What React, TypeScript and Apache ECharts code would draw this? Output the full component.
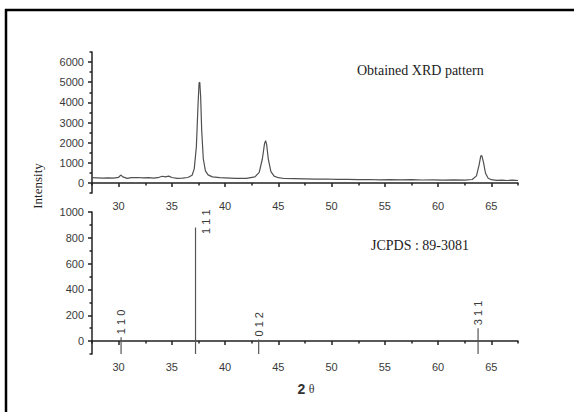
import React, { useEffect, useRef } from "react";
import * as echarts from "echarts";

// Obtained XRD pattern (2θ in degrees, intensity in counts)
const xrdAngles = [
  27.5, 28, 28.5, 29, 29.5, 30, 30.2, 30.4, 30.8, 31.2, 31.8, 32.3, 32.8, 33.3, 33.8,
  34.1, 34.4, 34.7, 35, 35.5, 36, 36.5, 36.9, 37.1, 37.3, 37.45, 37.55, 37.62, 37.7,
  37.8, 37.95, 38.15, 38.4, 38.8, 39.5, 40, 41, 42, 42.8, 43.2, 43.5, 43.7, 43.8, 43.9,
  44.05, 44.3, 44.6, 45, 45.5, 46.5, 47.5, 48.5, 49.5, 50.5, 51.5, 52.5, 53.5, 54.5,
  55.5, 56.5, 57.5, 58.5, 59.5, 60.5, 61.5, 62.5, 63.2, 63.6, 63.85, 64.0, 64.1, 64.25,
  64.45, 64.7, 65, 65.5, 66, 66.5, 67, 67.5,
];
const xrdIntensity = [
  260, 250, 240, 255, 235, 280, 390, 300, 225, 260, 270, 255, 260, 240, 280,
  330, 300, 340, 270, 230, 240, 270, 380, 700, 1800, 3800, 4950, 5000, 4300,
  2600, 1200, 600, 400, 300, 260, 250, 230, 225, 300, 520, 1200, 1950, 2100, 1900,
  1200, 560, 340, 260, 220, 210, 200, 185, 195, 175, 180, 160, 170, 155,
  165, 150, 160, 145, 150, 140, 150, 140, 170, 350, 900, 1330, 1360, 1050,
  480, 230, 160, 130, 140, 120, 135, 120,
];

// JCPDS 89-3081 reference lines
const refAngles = [30.23, 37.22, 43.15, 63.75];
const refIntensity = [30, 880, 12, 100];
const refLabels = ["1 1 0", "1 1 1", "0 1 2", "3 1 1"];

// Axis ticks
const xMajorTicks = [30, 35, 40, 45, 50, 55, 60, 65];
const xMinorTicks = [27.5, 32.5, 37.5, 42.5, 47.5, 52.5, 57.5, 62.5, 67.5];
const topYMajor = [0, 1000, 2000, 3000, 4000, 5000, 6000];
const topYMinor = [-500, 500, 1500, 2500, 3500, 4500, 5500, 6500];
const botYMajor = [0, 200, 400, 600, 800, 1000];
const botYMinor = [-100, 100, 300, 500, 700, 900];

const X_MIN = 27.5;
const X_MAX = 67.5;
const TOP_Y_MIN = -500;
const TOP_Y_MAX = 6500;
const BOT_Y_MIN = -100;
const BOT_Y_MAX = 1000;

const axisColor = "#222";
const labelColor = "#3a3a3a";
const sans = "Arial, 'Liberation Sans', sans-serif";
const serif = "'Liberation Serif', 'Times New Roman', serif";

const plain = (v: number) => String(v);

function xAxisPair(gridIndex: number) {
  return [
    {
      type: "value",
      gridIndex,
      min: X_MIN,
      max: X_MAX,
      axisLine: { show: true, lineStyle: { color: axisColor, width: 1.5 } },
      axisTick: {
        show: true,
        length: 4,
        customValues: xMajorTicks,
        lineStyle: { color: axisColor, width: 1.5 },
      },
      axisLabel: {
        show: true,
        customValues: xMajorTicks,
        formatter: plain,
        color: labelColor,
        fontSize: 11,
        fontFamily: sans,
        margin: 7,
      },
      splitLine: { show: false },
    },
    {
      type: "value",
      gridIndex,
      min: X_MIN,
      max: X_MAX,
      position: "bottom",
      axisLine: { show: false },
      axisTick: {
        show: true,
        length: 2.5,
        customValues: xMinorTicks,
        lineStyle: { color: axisColor, width: 1.5 },
      },
      axisLabel: { show: false },
      splitLine: { show: false },
    },
  ];
}

function yAxisPair(gridIndex: number, min: number, max: number, major: number[], minor: number[]) {
  return [
    {
      type: "value",
      gridIndex,
      min,
      max,
      axisLine: { show: true, lineStyle: { color: axisColor, width: 1.5 } },
      axisTick: {
        show: true,
        length: 4,
        customValues: major,
        lineStyle: { color: axisColor, width: 1.5 },
      },
      axisLabel: {
        show: true,
        customValues: major,
        formatter: plain,
        color: labelColor,
        fontSize: 11,
        fontFamily: sans,
        margin: 8,
      },
      splitLine: { show: false },
    },
    {
      type: "value",
      gridIndex,
      min,
      max,
      position: "left",
      axisLine: { show: false },
      axisTick: {
        show: true,
        length: 2.5,
        customValues: minor,
        lineStyle: { color: axisColor, width: 1.5 },
      },
      axisLabel: { show: false },
      splitLine: { show: false },
    },
  ];
}

export default function App() {
  const ref = useRef<HTMLDivElement>(null);

  useEffect(() => {
    if (!ref.current) return;
    const chart = echarts.init(ref.current, null, { renderer: "svg" });

    const curve = xrdAngles.map((x, i) => [x, xrdIntensity[i]]);
    const sticks = refAngles.map((x, i) => [x, refIntensity[i], i]);

    const option: any = {
      animation: false,
      backgroundColor: "#fff",
      grid: [
        { left: 92, right: 56, top: 52, height: 141 },
        { left: 92, right: 56, top: 212, height: 142 },
      ],
      xAxis: [...xAxisPair(0), ...xAxisPair(1)],
      yAxis: [
        ...yAxisPair(0, TOP_Y_MIN, TOP_Y_MAX, topYMajor, topYMinor),
        ...yAxisPair(1, BOT_Y_MIN, BOT_Y_MAX, botYMajor, botYMinor),
      ],
      series: [
        {
          type: "line",
          xAxisIndex: 0,
          yAxisIndex: 0,
          data: curve,
          showSymbol: false,
          symbol: "none",
          lineStyle: { color: "#505050", width: 1.2 },
        },
        {
          type: "custom",
          xAxisIndex: 2,
          yAxisIndex: 2,
          data: sticks,
          renderItem: (params: any, api: any) => {
            const x = api.value(0);
            const v = api.value(1);
            const idx = api.value(2);
            const base = api.coord([x, BOT_Y_MIN]);
            const top = api.coord([x, v]);
            const tall = v > 700;
            const label = tall
              ? {
                  type: "text",
                  x: top[0] + 10,
                  y: top[1] - 18,
                  rotation: Math.PI / 2,
                  style: {
                    text: refLabels[idx],
                    align: "right",
                    verticalAlign: "middle",
                    fontSize: 11,
                    fontFamily: sans,
                    fill: labelColor,
                  },
                }
              : {
                  type: "text",
                  x: top[0],
                  y: top[1] - 3,
                  rotation: Math.PI / 2,
                  style: {
                    text: refLabels[idx],
                    align: "left",
                    verticalAlign: "middle",
                    fontSize: 11,
                    fontFamily: sans,
                    fill: labelColor,
                  },
                };
            return {
              type: "group",
              children: [
                {
                  type: "line",
                  shape: { x1: base[0], y1: base[1], x2: top[0], y2: top[1] },
                  style: { stroke: "#555", lineWidth: 1.2 },
                },
                label,
              ],
            };
          },
        },
      ],
      graphic: [
        {
          type: "line",
          shape: { x1: 5, y1: 10, x2: 574, y2: 10 },
          style: { stroke: "#000", lineWidth: 2.5 },
        },
        {
          type: "line",
          shape: { x1: 6, y1: 9, x2: 6, y2: 412 },
          style: { stroke: "#000", lineWidth: 2.5 },
        },
        {
          type: "text",
          x: 357,
          y: 70,
          style: {
            text: "Obtained XRD pattern",
            fontSize: 14,
            fontFamily: serif,
            fill: "#222",
            align: "left",
            verticalAlign: "middle",
          },
        },
        {
          type: "text",
          x: 371,
          y: 245,
          style: {
            text: "JCPDS : 89-3081",
            fontSize: 14,
            fontFamily: serif,
            fill: "#222",
            align: "left",
            verticalAlign: "middle",
          },
        },
        {
          type: "text",
          x: 37,
          y: 186,
          rotation: Math.PI / 2,
          style: {
            text: "Intensity",
            fontSize: 13,
            fontFamily: serif,
            fill: "#222",
            align: "center",
            verticalAlign: "middle",
          },
        },
        {
          type: "text",
          x: 306,
          y: 389,
          style: {
            text: "{a|2} {b|θ}",
            align: "center",
            verticalAlign: "middle",
            rich: {
              a: { fontSize: 14, fontWeight: "bold", fontFamily: sans, fill: "#333" },
              b: { fontSize: 12, fontFamily: serif, fill: "#333" },
            },
          },
        },
      ],
    };

    chart.setOption(option);
    return () => chart.dispose();
  }, []);

  return (
    <div
      ref={ref}
      style={{ position: "fixed", left: 0, top: 0, width: 574, height: 412 }}
    />
  );
}
